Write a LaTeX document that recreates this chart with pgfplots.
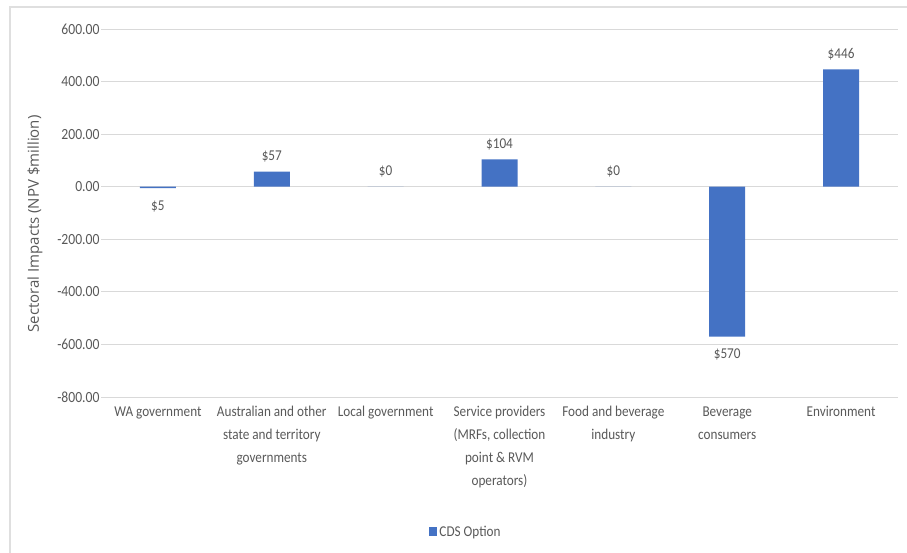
\documentclass[border=0pt]{standalone}
\usepackage{pgfplots}
\pgfplotsset{compat=1.18}
\usepackage{fontspec}
\setmainfont[FakeStretch=0.88]{Carlito}
\newfontfamily\ylabfont{Open Sans}
\definecolor{barblue}{HTML}{4472C4}
\definecolor{txtgray}{HTML}{595959}
\definecolor{gridgray}{HTML}{D9D9D9}
\begin{document}
\begin{tikzpicture}[x=1pt,y=1pt]
\useasboundingbox (0,0) rectangle (907,552);
\draw[gray!25, line width=1.5pt] (10,-5) -- (10,545) -- (915,545);
\begin{axis}[
  at={(101pt,155pt)}, anchor=south west,
  scale only axis, width=797pt, height=368pt,
  ybar, bar width=36pt, bar shift=0pt,
  xmin=-0.5, xmax=6.5, ymin=-800, ymax=600,
  ytick={-800,-600,-400,-200,0,200,400,600},
  xtick={0,1,2,3,4,5,6},
  xticklabels={{WA government},
    {Australian and other\\state and territory\\governments},
    {Local government},
    {Service providers\\(MRFs, collection\\point \& RVM\\operators)},
    {Food and beverage\\industry},
    {Beverage\\consumers},
    {Environment}},
  xticklabel style={align=center, font=\fontsize{15}{23}\selectfont, text=txtgray, yshift=-6pt},
  yticklabel style={font=\fontsize{15.5}{18}\selectfont, text=txtgray, xshift=2pt},
  /pgf/number format/.cd, fixed, fixed zerofill, precision=2, 1000 sep={}, assume math mode=true,
  /pgfplots/.cd,
  axis line style={draw=none},
  major tick length=0pt,
  ymajorgrids, grid style={gridgray, line width=0.9pt},
  ylabel={\ylabfont Sectoral Impacts (NPV \$million)},
  ylabel style={font=\fontsize{15}{16}\selectfont, text=txtgray, at={(axis description cs:-0.083,0.47)}, anchor=center},
  point meta=explicit symbolic,
  nodes near coords,
  nodes near coords style={font=\fontsize{15}{18}\selectfont, text=txtgray, inner sep=9.5pt},
  legend style={at={(0.458,-0.367)}, anchor=center, draw=none, fill=none, font=\fontsize{15}{18}\selectfont, text=txtgray},
  legend image code/.code={\fill[barblue] (0pt,-4pt) rectangle (8pt,5pt);},
]
\addplot[fill=barblue, draw=none] coordinates {
  (1,57) [\$57]
  (2,0) [\$0]
  (3,104) [\$104]
  (4,0) [\$0]
  (6,446) [\$446]
};
\addlegendentry{CDS Option}
\addplot[fill=barblue, draw=none, nodes near coords style={anchor=north, yshift=-3pt}] coordinates {
  (0,-5) [\$5]
  (5,-570) [\$570]
};
\end{axis}
\end{tikzpicture}
\end{document}
